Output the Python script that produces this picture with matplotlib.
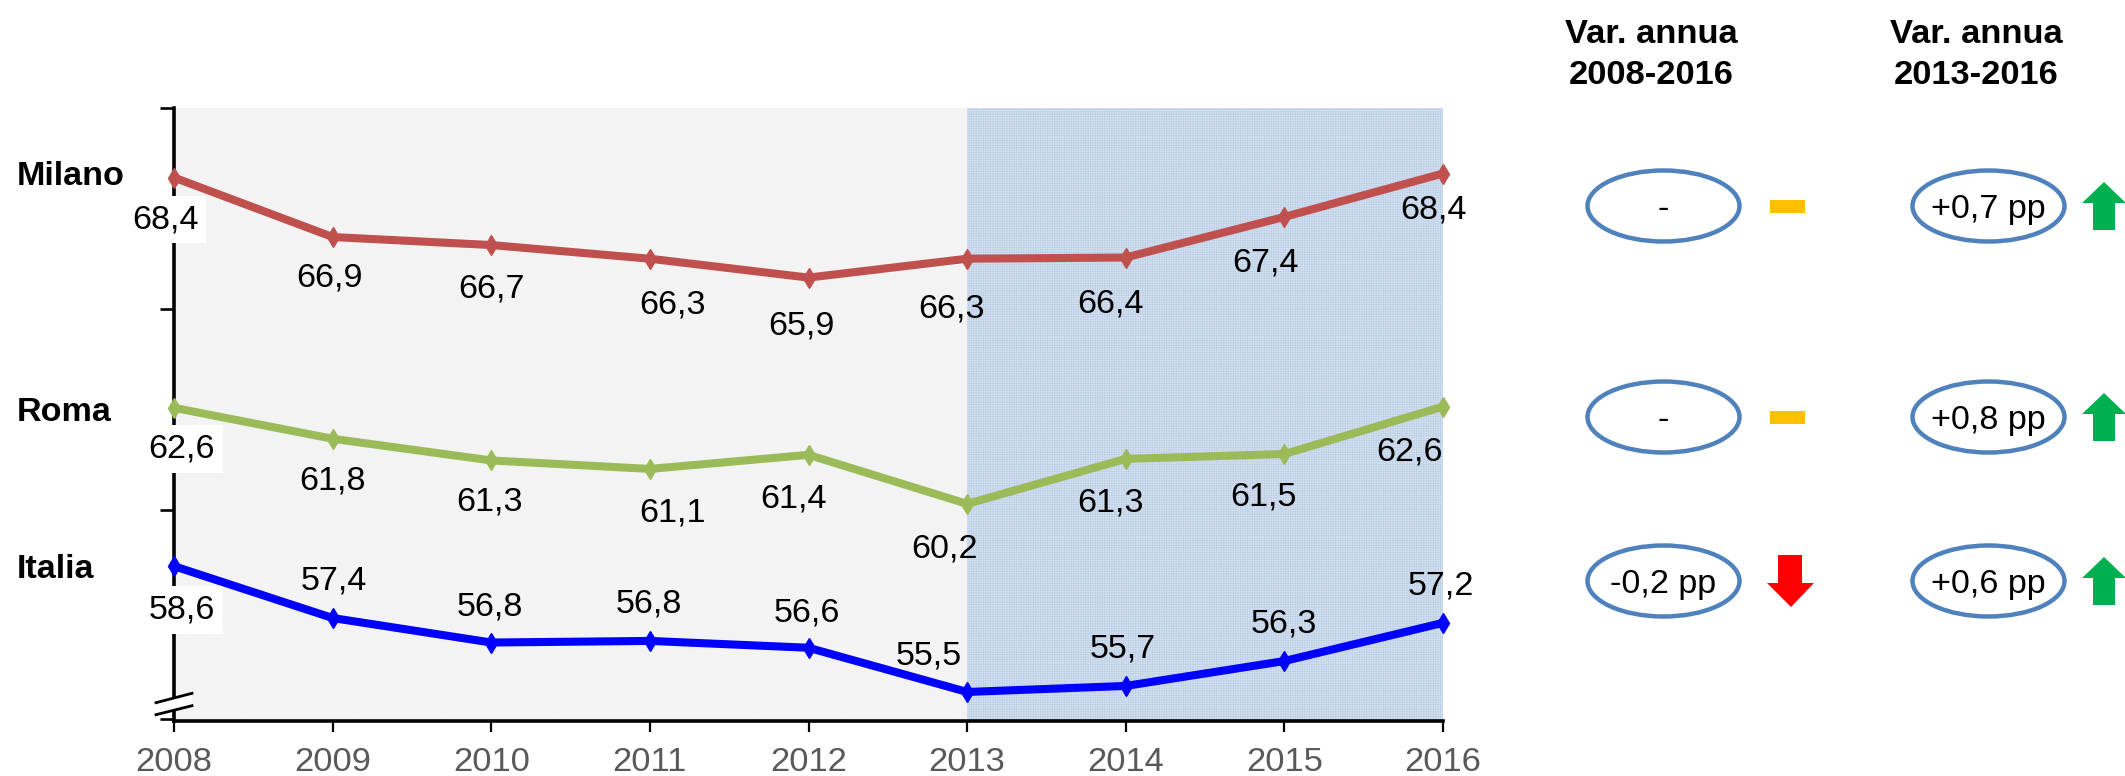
import matplotlib
matplotlib.use("Agg")
import matplotlib.pyplot as plt
from matplotlib.patches import Ellipse, Polygon, Rectangle

plt.rcParams["font.family"] = ["Liberation Sans", "DejaVu Sans"]
plt.rcParams["hatch.linewidth"] = 0.7

years = [2008, 2009, 2010, 2011, 2012, 2013, 2014, 2015, 2016]

# heights
milano = [68.27, 66.79, 66.59, 66.25, 65.78, 66.25, 66.28, 67.29, 68.37]
roma = [62.54, 61.77, 61.23, 61.02, 61.37, 60.15, 61.27, 61.39, 62.57]
italia = [58.60, 57.31, 56.70, 56.74, 56.57, 55.47, 55.62, 56.24, 57.19]

# printed labels
milano_lab = ["68,4", "66,9", "66,7", "66,3", "65,9", "66,3", "66,4", "67,4", "68,4"]
roma_lab = ["62,6", "61,8", "61,3", "61,1", "61,4", "60,2", "61,3", "61,5", "62,6"]
italia_lab = ["58,6", "57,4", "56,8", "56,8", "56,6", "55,5", "55,7", "56,3", "57,2"]

# label offsets from the point, pixels (x right, y down)
milano_off = [(-9, 42), (-3, 41), (0, 44), (23, 46), (-7, 48), (-16, 50), (-15, 46), (-19, 46), (-10, 36)]
roma_off = [(8, 41), (0, 42), (-2, 42), (23, 44), (-15, 44), (-23, 45), (-15, 44), (-21, 43), (-33, 45)]
italia_off = [(8, 44), (1, -37), (-1, -36), (-1, -37), (-2, -35), (-38, -36), (-3, -37), (0, -37), (-2, -37)]

names = ["Milano", "Roma", "Italia"]
name_base = [185, 421, 578]

headers = ["Var. annua\n2008-2016", "Var. annua\n2013-2016"]
header_x = [1651, 1976]
col_x = [1663.5, 1988.5]
row_y = [206, 417, 581]
var_0816 = ["-", "-", "-0,2 pp"]
var_1316 = ["+0,7 pp", "+0,8 pp", "+0,6 pp"]

W, H = 2125, 776
fig = plt.figure(figsize=(W / 100, H / 100), dpi=100)
ax = fig.add_axes([174 / W, 1 - 720.5 / H, (1443 - 174) / W, (720.5 - 108) / H])
ax.set_xlim(2008, 2016)
ax.set_ylim(54.76, 70)

ax.axvspan(2008, 2013, facecolor="#f1f1f1", edgecolor="#f5f5f5", hatch="+++++++", linewidth=0, zorder=0)
ax.axvspan(2013, 2016, facecolor="#b7cbe4", edgecolor="#d0ddee", hatch="+++++++", linewidth=0, zorder=0)

series = [
    (milano, milano_lab, milano_off, "#c0504d"),
    (roma, roma_lab, roma_off, "#9bbb59"),
    (italia, italia_lab, italia_off, "#0000ff"),
]
for vals, labs, offs, col in series:
    ax.plot(years, vals, color=col, linewidth=5.8, marker="d", markersize=10, clip_on=False, zorder=4)
    for i, (yr, v, lab) in enumerate(zip(years, vals, labs)):
        dx, dy = offs[i]
        box = dict(facecolor="white", edgecolor="none", pad=6) if i == 0 else None
        ax.annotate(lab, (yr, v), xytext=(dx * 0.72, -dy * 0.72), textcoords="offset points",
                    ha="center", va="center", fontsize=24.6, color="black", bbox=box, zorder=3)

for s in ["top", "right"]:
    ax.spines[s].set_visible(False)
ax.spines["left"].set_linewidth(2.6)
ax.spines["bottom"].set_linewidth(2.6)
ax.set_xticks(years)
ax.set_yticks([54.8, 60, 65, 70])
ax.set_yticklabels([])
ax.tick_params(axis="x", length=8, width=1.6, pad=11, labelsize=24.8, labelcolor="#595959")
ax.tick_params(axis="y", length=10, width=1.9)

# overlay in pixel coordinates for the side panel
ov = fig.add_axes([0, 0, 1, 1])
ov.set_xlim(0, W)
ov.set_ylim(H, 0)
ov.axis("off")
ov.patch.set_alpha(0)

# axis break
ov.add_patch(Polygon([(156, 702.7), (192, 693.3), (192, 705.7), (156, 714.7)], facecolor="white", edgecolor="none"))
ov.plot([156, 192], [702.7, 693.3], color="black", linewidth=2)
ov.plot([156, 192], [714.7, 705.7], color="black", linewidth=2)

for name, base in zip(names, name_base):
    ov.text(17, base, name, fontsize=24.6, fontweight="bold", ha="left", va="baseline")

for head, x in zip(headers, header_x):
    top, bottom = head.split("\n")
    ov.text(x, 43, top, fontsize=24.8, fontweight="bold", ha="center", va="baseline")
    ov.text(x, 84, bottom, fontsize=24.8, fontweight="bold", ha="center", va="baseline")

for x, texts in zip(col_x, [var_0816, var_1316]):
    for y, t in zip(row_y, texts):
        ov.add_patch(Ellipse((x, y), 152, 71, facecolor="white", edgecolor="#4f81bd", linewidth=3.2))
        ov.text(x, y + 12, t, fontsize=24.6, ha="center", va="baseline")

# dashes for no change
for y in row_y[:2]:
    ov.add_patch(Rectangle((1770, y - 6), 35, 12.5, facecolor="#ffc000", edgecolor="none"))

# green up arrows
for y in row_y:
    ov.add_patch(Polygon([(2104, y - 24), (2126, y - 3), (2115, y - 3), (2115, y + 24),
                          (2093, y + 24), (2093, y - 3), (2082, y - 3)],
                         facecolor="#00b050", edgecolor="none", clip_on=False))

# red down arrow
ov.add_patch(Polygon([(1778, 555), (1802, 555), (1802, 583), (1814, 583), (1791, 607),
                      (1767, 583), (1778, 583)], facecolor="#ff0000", edgecolor="none"))

fig.savefig("out.png", dpi=100)
